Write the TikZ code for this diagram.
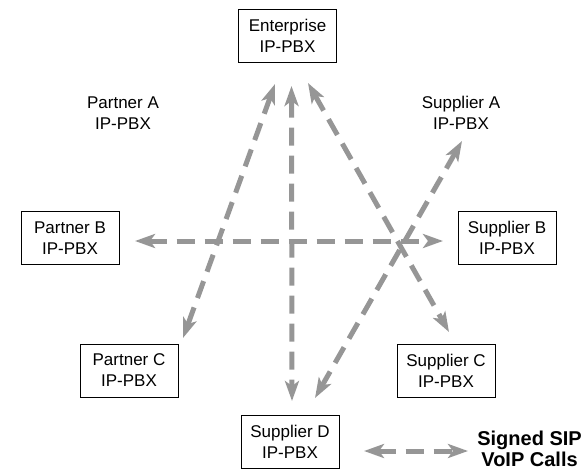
\documentclass[tikz,border=0pt]{standalone}
\usepackage{fontspec}
\setmainfont{Liberation Sans}
\usetikzlibrary{arrows.meta}
\definecolor{callgray}{RGB}{150,150,150}
\begin{document}
\begin{tikzpicture}[x=1pt,y=1pt,
  pbx/.style={draw=black,line width=0.9pt,minimum width=98pt,minimum height=53pt,
    align=center,inner sep=0pt,font=\fontsize{17}{21}\selectfont},
  pbxplain/.style={pbx,draw=none},
  call/.style={callgray,line width=5pt,dash pattern=on 18pt off 10pt,
    {Stealth[length=20pt,width=14pt,inset=5pt]}-{Stealth[length=20pt,width=14pt,inset=5pt]}},
  legend/.style={align=center,font=\bfseries\fontsize{20}{21}\selectfont,inner sep=0pt}]
\useasboundingbox (0,0) rectangle (583,-472);

% exchanges
\node[pbx] (ent) at (287.5,-36) {Enterprise\\IP-PBX};
\node[pbxplain] (pa) at (123,-113) {Partner A\\IP-PBX};
\node[pbxplain] (sa) at (461,-113) {Supplier A\\IP-PBX};
\node[pbx] (pb) at (70,-238) {Partner B\\IP-PBX};
\node[pbx] (sb) at (507,-238) {Supplier B\\IP-PBX};
\node[pbx] (pc) at (129,-370.5) {Partner C\\IP-PBX};
\node[pbx] (sc) at (446,-370.5) {Supplier C\\IP-PBX};
\node[pbx] (sd) at (290,-442) {Supplier D\\IP-PBX};

% call end points
\coordinate (e1) at (275,-84);
\coordinate (e2) at (291.5,-86);
\coordinate (e3) at (308,-83);
\coordinate (c1) at (183,-338);
\coordinate (c3) at (449,-332);
\coordinate (d2) at (292,-401);
\coordinate (d4) at (315,-398);
\coordinate (a4) at (462,-141);
\coordinate (b1) at (135,-241);
\coordinate (b2) at (443,-241);

% signed calls
\draw[call] (e1) -- (c1);
\draw[call] (e2) -- (d2);
\draw[call] (e3) -- (c3);
\draw[call] (a4) -- (d4);
\draw[call] (b1) -- (b2);

% legend
\node[legend,anchor=east] (lg) at (582,-449) {Signed SIP\\VoIP Calls};
\coordinate (l1) at (364,-451);
\coordinate (l2) at (468,-451);
\draw[call] (l1) -- (l2);
\end{tikzpicture}
\end{document}
